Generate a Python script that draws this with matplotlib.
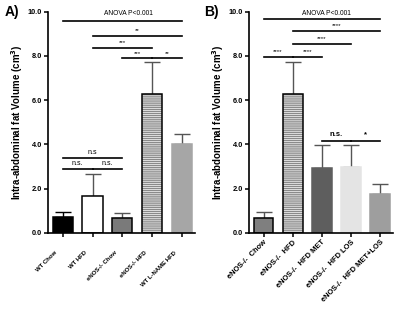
import matplotlib.pyplot as plt
from matplotlib.transforms import ScaledTranslation

plt.rcParams["font.family"] = ["Liberation Sans", "DejaVu Sans"]

# panel A
a_labels = ["WT Chow", "WT HFD", "eNOS-/- Chow", "eNOS-/- HFD", "WT L-NAME HFD"]
a_means = [0.70, 1.66, 0.68, 6.25, 4.00]
a_errs = [0.22, 0.98, 0.23, 1.45, 0.46]
a_colors = ["black", "white", "#7a7a7a", "white", "#a6a6a6"]
a_edges = ["black", "black", "black", "black", "#a6a6a6"]

# panel B
b_labels = ["eNOS-/-  Chow", "eNOS-/-  HFD", "eNOS-/-  HFD MET", "eNOS-/-  HFD LOS", "eNOS-/-  HFD MET+LOS"]
b_means = [0.66, 6.25, 2.92, 2.96, 1.75]
b_errs = [0.26, 1.45, 1.05, 1.01, 0.44]
b_colors = ["#7f7f7f", "white", "#5e5e5e", "#e4e4e4", "#9e9e9e"]
b_edges = ["black", "black", "#5e5e5e", "#e4e4e4", "#9e9e9e"]

# significance brackets: (x start, x end, y, label, font size, weight)
a_sig = [(0, 4, 9.55, None, 0, "normal"), (1, 4, 8.91, "**", 4.5, "normal"),
         (1, 3, 8.37, "***", 4.5, "normal"),
         (2, 3, 7.89, "***", 4.5, "normal"), (3, 4, 7.89, "**", 4.5, "normal"),
         (0, 2, 3.37, "n.s", 5, "normal"), (0, 1, 2.87, "n.s.", 5, "normal"),
         (1, 2, 2.87, "n.s.", 5, "normal")]
b_sig = [(0, 4, 9.66, None, 0, "normal"), (1, 4, 9.13, "****", 4.5, "normal"),
         (1, 3, 8.54, "****", 4.5, "normal"),
         (0, 1, 7.96, "****", 4.5, "normal"), (1, 2, 7.96, "****", 4.5, "normal"),
         (2, 3, 4.16, "n.s.", 5.5, "bold"), (3, 4, 4.16, "*", 5.5, "bold")]

fig = plt.figure(figsize=(4, 3.12), dpi=100)
axA = fig.add_axes([0.12, 0.254, 0.368, 0.709])
axB = fig.add_axes([0.6225, 0.254, 0.36, 0.709])


def draw(ax, labels, means, errs, colors, edges, sig, hatched, anova_x):
    x = list(range(len(means)))
    for i in x:
        if i == hatched:
            ax.bar(i, means[i], width=0.68, color="white", edgecolor="#8a8a8a",
                   hatch="-" * 8, linewidth=0, zorder=2)
            ax.bar(i, means[i], width=0.68, fill=False, edgecolor="black",
                   linewidth=1.1, zorder=3)
        else:
            ax.bar(i, means[i], width=0.68, color=colors[i], edgecolor=edges[i],
                   linewidth=1.1, zorder=2)
        ecol = "black" if colors[i] == "black" else "#555555"
        ax.errorbar(i, means[i], yerr=[[0], [errs[i]]], color=ecol,
                    capsize=5.5, elinewidth=1, capthick=1, zorder=1)
    for x0, x1, y, lab, fs, fw in sig:
        ax.plot([x0, x1], [y, y], color="black", lw=1.2, clip_on=False)
        if lab:
            ax.text((x0 + x1) / 2, y + 0.12, lab, ha="center", va="bottom",
                    fontsize=fs, fontweight=fw)
    ax.text(anova_x, 9.9, "ANOVA P<0.001", ha="center", va="center", fontsize=4.8)
    ax.set_xlim(-0.5, 4.45)
    ax.set_ylim(0, 10)
    ax.set_yticks([0, 2, 4, 6, 8, 10])
    ax.set_yticklabels(["0.0", "2.0", "4.0", "6.0", "8.0", "10.0"], fontsize=5.3, fontweight="bold")
    ax.set_xticks(x)
    ax.set_ylabel("Intra-abdominal fat Volume (cm$^\\mathbf{3}$)", fontsize=7,
                  fontweight="bold", labelpad=2)
    for s in ["top", "right"]:
        ax.spines[s].set_visible(False)
    for s in ["left", "bottom"]:
        ax.spines[s].set_linewidth(1.2)
    ax.tick_params(length=3, width=1.1, pad=1.5)


draw(axA, a_labels, a_means, a_errs, a_colors, a_edges, a_sig, 3, 2.2)
draw(axB, b_labels, b_means, b_errs, b_colors, b_edges, b_sig, 1, 2.16)

axA.set_xticklabels(a_labels, rotation=45, ha="right", rotation_mode="anchor",
                    fontsize=4.3, fontweight="bold",
                    family=["Liberation Sans Narrow", "Liberation Sans", "DejaVu Sans"])
shift = ScaledTranslation(-0.08, -0.11, fig.dpi_scale_trans)
for lab in axA.get_xticklabels():
    lab.set_transform(lab.get_transform() + shift)

axB.set_xticklabels(b_labels, rotation=45, ha="right", rotation_mode="anchor",
                    fontsize=5.4, fontweight="bold")

fig.text(0.012, 0.96, "A)", fontsize=10, fontweight="bold", va="center")
fig.text(0.51, 0.96, "B)", fontsize=10, fontweight="bold", va="center")

fig.savefig("out.png", dpi=100)
